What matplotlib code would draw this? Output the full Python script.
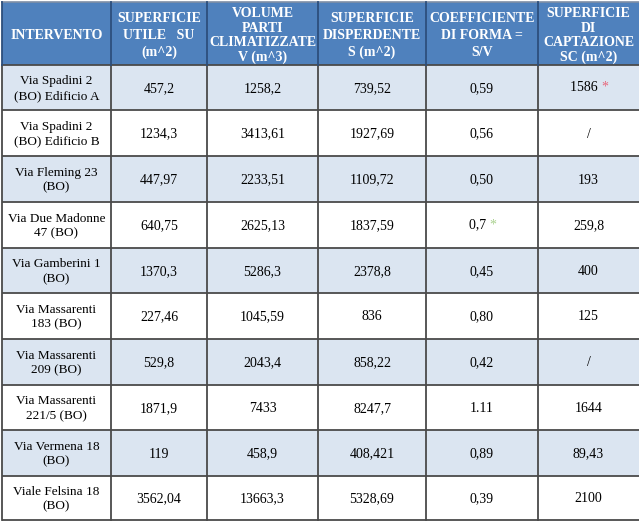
import matplotlib.pyplot as plt
from matplotlib.patches import Rectangle

plt.rcParams["font.family"] = ["Liberation Serif", "DejaVu Serif"]

headers = [
    "INTERVENTO",
    "SUPERFICIE\nUTILE   SU\n(m^2)",
    "VOLUME\nPARTI\nCLIMATIZZATE\nV (m^3)",
    "SUPERFICIE\nDISPERDENTE\nS (m^2)",
    "COEFFICIENTE\nDI FORMA =\nS/V",
    "SUPERFICIE\nDI\nCAPTAZIONE\nSC (m^2)",
]
interventi = [
    "Via Spadini 2\n(BO) Edificio A",
    "Via Spadini 2\n(BO) Edificio B",
    "Via Fleming 23\n(BO)",
    "Via Due Madonne\n47 (BO)",
    "Via Gamberini 1\n(BO)",
    "Via Massarenti\n183 (BO)",
    "Via Massarenti\n209 (BO)",
    "Via Massarenti\n221/5 (BO)",
    "Via Vermena 18\n(BO)",
    "Viale Felsina 18\n(BO)",
]
superficie_utile = ["457,2", "1234,3", "447,97", "640,75", "1370,3", "227,46",
                    "529,8", "1871,9", "119", "3562,04"]
volume = ["1258,2", "3413,61", "2233,51", "2625,13", "5286,3", "1045,59",
          "2043,4", "7433", "458,9", "13663,3"]
superficie_disp = ["739,52", "1927,69", "1109,72", "1837,59", "2378,8", "836",
                   "858,22", "8247,7", "408,421", "5328,69"]
coeff_forma = ["0,59", "0,56", "0,50", "0,7", "0,45", "0,80", "0,42", "1.11",
               "0,89", "0,39"]
captazione = ["1586", "/", "193", "259,8", "400", "125", "/", "1644", "89,43",
              "2100"]
# (row, column) -> colour of the footnote asterisk
asterischi = {(0, 5): "#e8667a", (3, 4): "#a9d18e"}

columns = [interventi, superficie_utile, volume, superficie_disp, coeff_forma,
           captazione]

col_edges = [2, 111, 207, 318, 426, 538, 639]
row_edges = [2, 65, 110, 156, 202, 248, 293, 339, 385, 430, 476, 520]

fig = plt.figure(figsize=(6.39, 5.28), dpi=100)
ax = fig.add_axes([0, 0, 1, 1])
ax.set_xlim(0, 639)
ax.set_ylim(528, 0)
ax.axis("off")

header_bg = "#4f81bd"
stripe_bg = "#dbe5f1"
grid = "#4a4a4a"

# header
for j, h in enumerate(headers):
    x0, x1 = col_edges[j], col_edges[j + 1]
    y0, y1 = row_edges[0], row_edges[1]
    ax.add_patch(Rectangle((x0, y0), x1 - x0, y1 - y0, facecolor=header_bg,
                           edgecolor="none"))
    ls = 1.35 if h.count("\n") < 3 else 1.12
    ax.text((x0 + x1) / 2, (y0 + y1) / 2 + 2, h, ha="center", va="center",
            color="white", fontweight="bold", fontsize=10, linespacing=ls)

# body
for i in range(len(interventi)):
    y0, y1 = row_edges[i + 1], row_edges[i + 2]
    bg = stripe_bg if i % 2 == 0 else "white"
    for j, col in enumerate(columns):
        x0, x1 = col_edges[j], col_edges[j + 1]
        ax.add_patch(Rectangle((x0, y0), x1 - x0, y1 - y0, facecolor=bg,
                               edgecolor="none"))
        cx, cy = (x0 + x1) / 2, (y0 + y1) / 2
        fs = 9.5 if j == 0 else 10
        if (i, j) in asterischi:
            t = ax.text(cx - 3, cy, col[i] + " ", ha="center", va="center",
                        fontsize=fs, color="black")
            ax.annotate("*", xy=(1, 0.5), xycoords=t, ha="left", va="center",
                        fontsize=fs, color=asterischi[(i, j)])
        else:
            ax.text(cx, cy + 1, col[i], ha="center", va="center", fontsize=fs,
                    color="black", linespacing=1.3)

# grid lines
for y in row_edges[1:]:
    ax.plot([col_edges[0], col_edges[-1]], [y, y], color=grid, lw=1.3,
            solid_capstyle="butt")
ax.plot([col_edges[0], col_edges[-1]], [row_edges[0], row_edges[0]],
        color="#7f8fa6", lw=1.2)
for x in col_edges[:-1]:
    ax.plot([x, x], [row_edges[1], row_edges[-1]], color=grid, lw=1.3)
    ax.plot([x, x], [row_edges[0], row_edges[1]], color="#2d4f7c", lw=1.3)

fig.savefig("out.png", dpi=100)
